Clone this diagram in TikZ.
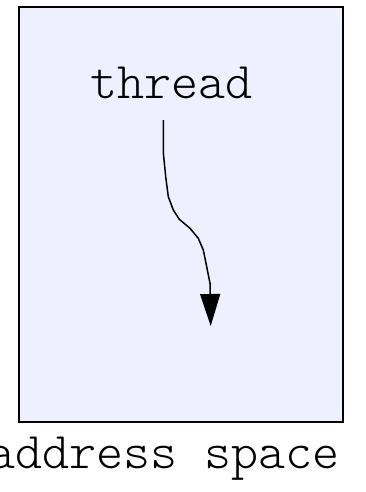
\documentclass[tikz,border=0pt]{standalone}
\usepackage{fontspec}
\setmonofont{Latin Modern Mono Light}
\usetikzlibrary{arrows.meta}
\definecolor{boxfill}{RGB}{238,240,255}
\tikzset{
  box/.style={draw=black, line width=2pt, fill=boxfill},
  lbl/.style={font=\ttfamily\fontsize{51.5}{52}\selectfont, inner sep=0pt, anchor=base},
  flow/.style={line width=1.5pt, -{Triangle[length=32pt,width=20pt]}}
}
\begin{document}
\begin{tikzpicture}[x=1pt,y=-1pt]
\useasboundingbox (0,0) rectangle (366,492);
\node[box, minimum width=324pt, minimum height=415pt, inner sep=0pt] (space) at (181,214.5) {};
\node[lbl] (thread) at (171.5,99) {thread};
\coordinate (tstart) at (163.3,120);
\coordinate (tend) at (210.7,326);
\node[lbl] (label) at (164,468) {address space};
\draw[flow] (tstart) -- (163.3,152.7) -- (165.7,176.7) -- (168.3,196.7) -- (173.3,210) -- (179.3,219.3) -- (190,228.3) -- (198.3,238.3) -- (203.3,250) -- (206.7,266.7) -- (210,283.3) -- (tend);
\end{tikzpicture}
\end{document}
